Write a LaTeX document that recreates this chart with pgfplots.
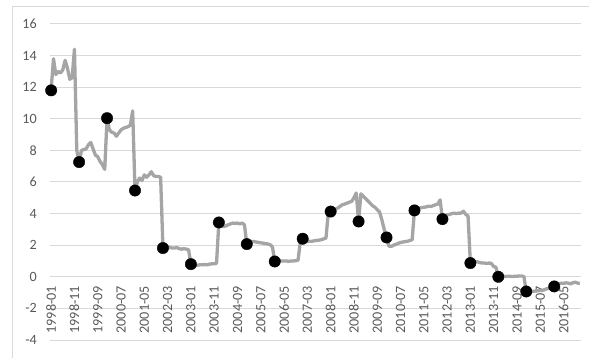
\documentclass[border=0pt]{standalone}
\usepackage{fontspec}
\setmainfont{Carlito}
\usepackage{pgfplots}
\usepackage{pgfplotstable}
\pgfplotsset{compat=1.18}

\definecolor{linegray}{HTML}{A5A5A5}
\definecolor{gridgray}{HTML}{D9D9D9}
\definecolor{labelgray}{HTML}{595959}

% monthly series, month index 0 = 1998-01
\pgfplotstableread{
i v
0 11.9
1 13.8
2 12.8
3 13.0
4 12.9
5 13.1
6 13.7
7 13.2
8 12.5
9 12.6
10 14.4
11 8.0
12 7.26
13 8.0
14 8.05
15 8.1
16 8.35
17 8.5
18 8.1
19 7.7
20 7.6
21 7.3
22 7.1
23 6.8
24 10.04
25 9.3
26 9.15
27 9.1
28 8.9
29 9.1
30 9.3
31 9.4
32 9.45
33 9.5
34 9.6
35 10.5
36 5.46
37 6.0
38 6.25
39 6.1
40 6.45
41 6.3
42 6.45
43 6.65
44 6.4
45 6.35
46 6.35
47 6.3
48 1.82
49 1.95
50 1.92
51 1.85
52 1.82
53 1.82
54 1.85
55 1.78
56 1.75
57 1.78
58 1.75
59 1.72
60 0.80
61 0.72
62 0.70
63 0.74
64 0.76
65 0.76
66 0.78
67 0.76
68 0.80
69 0.82
70 0.82
71 0.85
72 3.44
73 3.25
74 3.18
75 3.22
76 3.29
77 3.35
78 3.40
79 3.38
80 3.40
81 3.35
82 3.40
83 3.29
84 2.07
85 2.20
86 2.23
87 2.23
88 2.20
89 2.18
90 2.15
91 2.13
92 2.10
93 2.08
94 2.03
95 1.90
96 0.97
97 1.00
98 1.02
99 1.00
100 1.00
101 1.00
102 0.98
103 1.00
104 1.00
105 1.02
106 1.05
107 2.23
108 2.41
109 2.23
110 2.23
111 2.25
112 2.25
113 2.28
114 2.30
115 2.32
116 2.35
117 2.40
118 2.45
119 4.10
120 4.13
121 4.20
122 4.28
123 4.35
124 4.45
125 4.56
126 4.60
127 4.66
128 4.72
129 4.77
130 5.00
131 5.30
132 3.50
133 5.25
134 5.10
135 4.95
136 4.80
137 4.65
138 4.50
139 4.40
140 4.25
141 4.10
142 3.60
143 3.00
144 2.49
145 1.95
146 1.92
147 2.00
148 2.05
149 2.12
150 2.17
151 2.20
152 2.23
153 2.25
154 2.30
155 2.34
156 4.20
157 4.30
158 4.35
159 4.38
160 4.40
161 4.42
162 4.47
163 4.45
164 4.50
165 4.56
166 4.60
167 4.87
168 3.65
169 3.85
170 3.92
171 3.95
172 4.00
173 4.03
174 4.00
175 4.03
176 4.03
177 4.15
178 3.95
179 3.85
180 0.87
181 0.95
182 0.97
183 0.95
184 0.90
185 0.87
186 0.87
187 0.85
188 0.87
189 0.85
190 0.65
191 0.60
192 0.00
193 0.02
194 0.03
195 0.02
196 0.04
197 0.03
198 0.02
199 0.03
200 0.04
201 0.05
202 0.05
203 0.02
204 -0.93
205 -0.93
206 -0.93
207 -0.92
208 -0.90
209 -0.88
210 -0.87
211 -0.85
212 -0.80
213 -0.75
214 -0.72
215 -0.68
216 -0.61
217 -0.55
218 -0.45
219 -0.40
220 -0.42
221 -0.38
222 -0.40
223 -0.45
224 -0.38
225 -0.34
226 -0.40
227 -0.42
}\monthly

% January values
\pgfplotstableread{
i v
0 11.8
12 7.26
24 10.04
36 5.46
48 1.82
60 0.80
72 3.44
84 2.07
96 0.97
108 2.41
120 4.13
132 3.50
144 2.49
156 4.20
168 3.65
180 0.87
192 0.00
204 -0.93
216 -0.61
}\january

\begin{document}
\begin{tikzpicture}
\begin{axis}[
  scale only axis,
  width=531bp, height=316bp,
  xmin=-0.5, xmax=227.5,
  ymin=-4, ymax=16,
  axis x line=middle, axis y line=left,
  axis line style={draw=none},
  ytick={-4,-2,...,16},
  ymajorgrids,
  grid style={gridgray, line width=1bp},
  xtick={0,10,...,220},
  xticklabels={1998-01,1998-11,1999-09,2000-07,2001-05,2002-03,2003-01,2003-11,2004-09,2005-07,2006-05,2007-03,2008-01,2008-11,2009-09,2010-07,2011-05,2012-03,2013-01,2013-11,2014-09,2015-07,2016-05},
  major tick length=0pt,
  tick label style={font=\fontsize{14.2}{16}\selectfont, text=labelgray},
  /pgf/number format/assume math mode=true,
  xticklabel style={rotate=90, anchor=east, inner xsep=9bp, inner ysep=0pt},
  yticklabel style={anchor=east, inner sep=0pt, xshift=-13bp},
  clip=false,
]
\addplot[linegray, line width=3.3bp, line join=round, mark=none] table[x=i, y=v] {\monthly};
\addplot[only marks, mark=*, mark size=5.7bp, mark options={fill=black, draw=black}] table[x=i, y=v] {\january};
\end{axis}
\draw[gridgray, line width=1bp] (-37bp,-18bp) -- (-37bp,333bp) -- (539bp,333bp);
\pgfresetboundingbox
\useasboundingbox (-50bp,-18bp) rectangle (539bp,340bp);
\end{tikzpicture}
\end{document}
